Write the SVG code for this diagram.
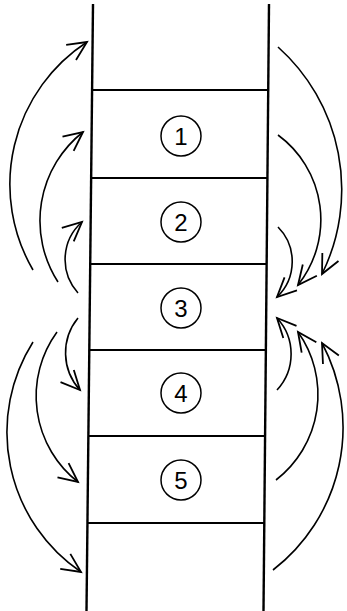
<svg xmlns="http://www.w3.org/2000/svg" width="347" height="611" viewBox="0 0 347 611">
  <style>
    .rail { stroke: #000; stroke-width: 2.4; fill: none; }
    .rung { stroke: #000; stroke-width: 1.8; fill: none; }
    .ring { stroke: #000; stroke-width: 1.5; fill: none; }
    .num { font-family: "Liberation Sans", "DejaVu Sans", sans-serif; font-size: 24px; fill: #000; text-anchor: middle; }
    .flow { stroke: #000; stroke-width: 1.6; fill: none; marker-end: url(#head); }
  </style>
  <defs>
    <marker id="head" markerUnits="userSpaceOnUse" markerWidth="30" markerHeight="30" viewBox="-25 -15 30 30" refX="0" refY="0" orient="auto" overflow="visible">
      <path d="M-19,-9 L0,0 L-19,9" stroke="#000" stroke-width="1.8" fill="none" stroke-linejoin="miter"/>
    </marker>
  </defs>

  <!-- column walls and floors -->
  <g id="frame">
    <line class="rail" x1="93" y1="4" x2="86.5" y2="611"/>
    <line class="rail" x1="269" y1="4" x2="263.5" y2="611"/>
    <line class="rung" x1="92" y1="90" x2="268" y2="90"/>
    <line class="rung" x1="91" y1="178" x2="267.5" y2="178"/>
    <line class="rung" x1="90.5" y1="264" x2="266.5" y2="264"/>
    <line class="rung" x1="89.5" y1="350" x2="265.5" y2="350"/>
    <line class="rung" x1="88.5" y1="436" x2="265" y2="436"/>
    <line class="rung" x1="87.5" y1="523" x2="264" y2="523"/>
  </g>

  <g id="stage1">
    <circle class="ring" cx="181" cy="136" r="20"/>
    <text class="num" x="181" y="144.5">1</text>
  </g>
  <g id="stage2">
    <circle class="ring" cx="181" cy="222" r="20"/>
    <text class="num" x="181" y="230.5">2</text>
  </g>
  <g id="stage3">
    <circle class="ring" cx="181" cy="308" r="20"/>
    <text class="num" x="181" y="316.5">3</text>
  </g>
  <g id="stage4">
    <circle class="ring" cx="181" cy="393" r="20"/>
    <text class="num" x="181" y="401.5">4</text>
  </g>
  <g id="stage5">
    <circle class="ring" cx="181" cy="480" r="20"/>
    <text class="num" x="181" y="488.5">5</text>
  </g>

  <!-- curved flow arrows -->
  <g id="connectors">
    <path class="flow" d="M33,270 A170,170 0 0 1 87,42"/>
    <path class="flow" d="M58,282 A113,113 0 0 1 83,132"/>
    <path class="flow" d="M78,293 A50,50 0 0 1 82,222"/>
    <path class="flow" d="M78,318 A55,55 0 0 0 80,390"/>
    <path class="flow" d="M57,332 A109,109 0 0 0 78,482"/>
    <path class="flow" d="M33,342 A169,169 0 0 0 81,572"/>
    <path class="flow" d="M278,47 A191,191 0 0 1 322,274"/>
    <path class="flow" d="M278,135 A105,105 0 0 1 298,285"/>
    <path class="flow" d="M278,227 A49,49 0 0 1 277,297"/>
    <path class="flow" d="M277,390 A53,53 0 0 0 277,318"/>
    <path class="flow" d="M276,480 A108,108 0 0 0 298,332"/>
    <path class="flow" d="M273,570 A180,180 0 0 0 322,343"/>
  </g>
</svg>
